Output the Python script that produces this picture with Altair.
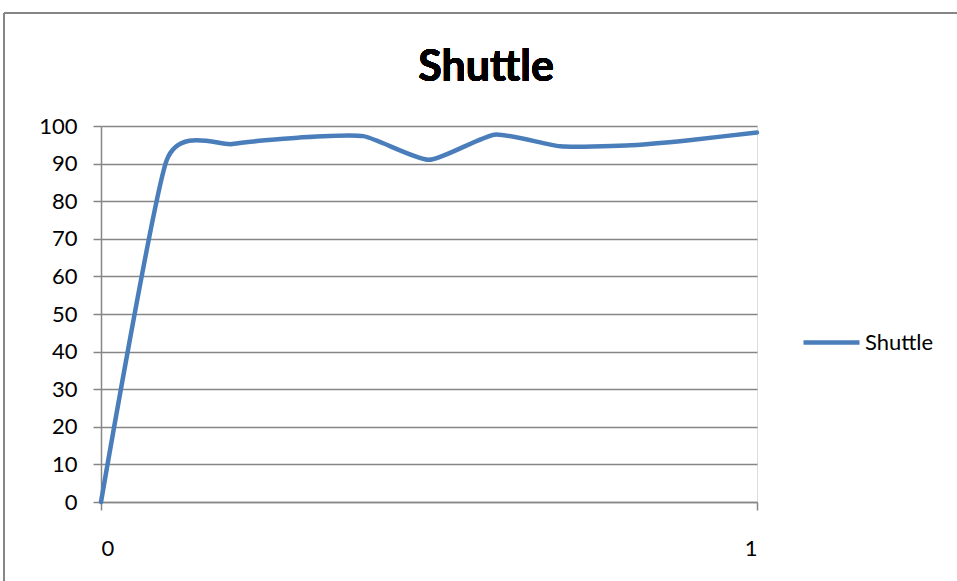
import altair as alt
import pandas as pd

x_vals = [0.0, 0.1, 0.2, 0.3, 0.4, 0.5, 0.6, 0.7, 0.8, 0.9, 1.0]
shuttle = [0, 90.8, 95.2, 96.9, 97.3, 91.0, 97.7, 94.6, 94.8, 96.3, 98.3]
series_name = "Shuttle"
title_text = "Shuttle"
y_ticks = [0, 10, 20, 30, 40, 50, 60, 70, 80, 90, 100]
x_ticks = [0, 1]

df = pd.DataFrame({"x": x_vals, "value": shuttle, "series": [series_name] * len(x_vals)})

FONT = "Lato"
GRAY = "#868686"
BLUE = "#4a7ebb"

line = alt.Chart(df).mark_line(interpolate="cardinal", tension=0.42, strokeWidth=4.5,
                               strokeCap="round", strokeJoin="round").encode(
    x=alt.X("x:Q", scale=alt.Scale(domain=[0, 1], nice=False),
            axis=alt.Axis(values=x_ticks, title=None, grid=False, labelPadding=28,
                          tickSize=8, labelFontSize=22, labelFont=FONT, labelColor="#000000",
                          domainColor=GRAY, tickColor=GRAY, domainWidth=1.5, tickWidth=1.5,
                          format="d")),
    y=alt.Y("value:Q", scale=alt.Scale(domain=[0, 100], nice=False),
            axis=alt.Axis(values=y_ticks, title=None, grid=True, gridColor=GRAY, gridWidth=1.5,
                          labelPadding=16, tickSize=8, labelFontSize=22, labelFont=FONT,
                          labelColor="#000000", domainColor=GRAY, tickColor=GRAY,
                          domainWidth=1.5, tickWidth=1.5)),
    color=alt.Color("series:N", scale=alt.Scale(range=[BLUE]),
                    legend=alt.Legend(title=None, orient="none", legendX=700, legendY=186,
                                      symbolType="stroke", symbolSize=3136, symbolStrokeWidth=4.5,
                                      labelFontSize=22, labelFont=FONT, labelColor="#000000",
                                      labelOffset=3)),
)

title = alt.Chart(df).mark_text(font=FONT, fontSize=43, fontWeight="bold", color="#000000",
                                align="center", baseline="alphabetic").encode(
    x=alt.value(385), y=alt.value(-45), text=alt.value(title_text))

frame_top = alt.Chart(df).mark_rule(color=GRAY, strokeWidth=1.5).encode(
    x=alt.value(-97), x2=alt.value(900), y=alt.value(-113))
frame_left = alt.Chart(df).mark_rule(color=GRAY, strokeWidth=1.5).encode(
    x=alt.value(-97), y=alt.value(-113), y2=alt.value(500))

chart = alt.layer(line, title, frame_top, frame_left).properties(
    width=656, height=376,
    autosize=alt.AutoSizeParams(type="none"),
    padding={"left": 101, "top": 126, "right": 200, "bottom": 79},
).configure_view(stroke=None).configure(background="white")

chart.save("out.html", embed_options={"renderer": "svg", "actions": False})
